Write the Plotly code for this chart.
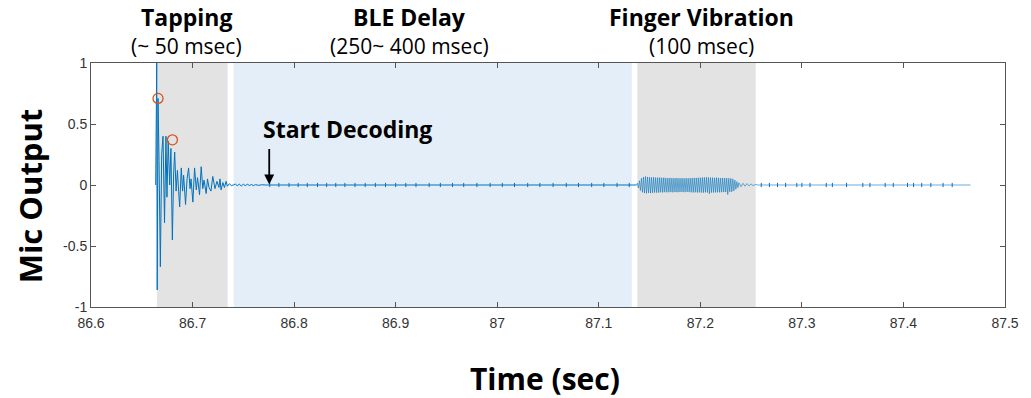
import plotly.graph_objects as go

# ---------------- data ----------------
tap_t = [86.6637, 86.6647, 86.6652, 86.6660, 86.6670, 86.6683, 86.6696, 86.6709,
         86.6724, 86.6738, 86.6748, 86.6760, 86.6775, 86.6787, 86.6801, 86.6814,
         86.6824, 86.6838, 86.6851, 86.6863, 86.6873, 86.6889, 86.6902, 86.6912,
         86.6931, 86.6946, 86.6961, 86.6975, 86.6985, 86.7003, 86.7020, 86.7037,
         86.7049, 86.7069, 86.7085, 86.7101, 86.7113, 86.7134, 86.7147, 86.7162,
         86.7181, 86.7199, 86.7221, 86.7240, 86.7260, 86.7270, 86.7281, 86.7299,
         86.7314, 86.7330, 86.7343, 86.7363, 86.7382, 86.7402]
tap_v = [0.0, 1.0, -0.86, 0.71, 0.20, -0.67, 0.25, 0.40,
         -0.31, 0.40, -0.10, 0.36, 0.0, 0.30, -0.45, 0.10,
         0.27, -0.05, 0.12, -0.05, -0.18, 0.14, -0.05, 0.08,
         -0.16, 0.05, 0.14, -0.03, 0.05, -0.14, 0.14, -0.04,
         0.06, -0.08, 0.15, -0.03, 0.04, -0.07, 0.05, -0.02,
         -0.05, 0.07, -0.03, 0.03, -0.02, 0.05, -0.04, 0.02,
         -0.02, 0.03, -0.01, 0.01, -0.005, 0.0]

quiet_t = [86.7420, 86.7440, 86.7460, 86.7480, 86.7500, 86.7520, 86.7540, 86.7560,
           86.7580, 86.7600, 86.7620, 86.7650, 86.7680, 86.7720, 87.1370]
quiet_v = [0.008, -0.006, 0.007, -0.008, 0.006, -0.005, 0.006, -0.004,
           0.004, -0.005, 0.003, -0.003, 0.002, 0.0, 0.0]

vib_t = [87.138, 87.139, 87.140, 87.141, 87.142, 87.143, 87.144, 87.145, 87.146, 87.147,
         87.148, 87.149, 87.150, 87.151, 87.152, 87.153, 87.154, 87.155, 87.156, 87.157,
         87.158, 87.159, 87.160, 87.161, 87.162, 87.163, 87.164, 87.165, 87.166, 87.167,
         87.168, 87.169, 87.170, 87.171, 87.172, 87.173, 87.174, 87.175, 87.176, 87.177,
         87.178, 87.179, 87.180, 87.181, 87.182, 87.183, 87.184, 87.185, 87.186, 87.187,
         87.188, 87.189, 87.190, 87.191, 87.192, 87.193, 87.194, 87.195, 87.196, 87.197,
         87.198, 87.199, 87.200, 87.201, 87.202, 87.203, 87.204, 87.205, 87.206, 87.207,
         87.208, 87.209, 87.210, 87.211, 87.212, 87.213, 87.214, 87.215, 87.216, 87.217,
         87.218, 87.219, 87.220, 87.221, 87.222, 87.223, 87.224, 87.225, 87.226, 87.227,
         87.228, 87.229, 87.230, 87.231, 87.232, 87.233, 87.234, 87.235, 87.236, 87.237,
         87.238]
vib_v = [0.015, -0.025, 0.035, -0.045, 0.055, -0.060, 0.065, -0.066, 0.070, -0.068,
         0.066, -0.065, 0.064, -0.066, 0.062, -0.064, 0.063, -0.062, 0.061, -0.063,
         0.060, -0.062, 0.061, -0.060, 0.059, -0.061, 0.060, -0.059, 0.058, -0.060,
         0.057, -0.059, 0.058, -0.058, 0.057, -0.060, 0.056, -0.058, 0.057, -0.059,
         0.056, -0.058, 0.055, -0.057, 0.056, -0.058, 0.055, -0.059, 0.056, -0.057,
         0.055, -0.058, 0.056, -0.060, 0.057, -0.061, 0.058, -0.060, 0.058, -0.061,
         0.059, -0.061, 0.060, -0.062, 0.061, -0.063, 0.062, -0.060, 0.063, -0.062,
         0.062, -0.072, 0.061, -0.062, 0.060, -0.062, 0.059, -0.061, 0.060, -0.060,
         0.058, -0.060, 0.057, -0.059, 0.058, -0.058, 0.056, -0.058, 0.057, -0.078,
         0.055, -0.056, 0.054, -0.055, 0.050, -0.048, 0.040, -0.035, 0.028, -0.022,
         0.018]

tail_t = [87.2400, 87.2420, 87.2440, 87.2460, 87.2480, 87.2500, 87.2520, 87.2540,
          87.2570, 87.4660]
tail_v = [-0.014, 0.014, -0.010, 0.012, -0.008, 0.008, -0.005, 0.004, 0.0, 0.0]

blip_t = [86.7760, 86.7850, 86.7950, 86.8040, 86.8130, 86.8230, 86.8320, 86.8410,
          86.8500, 86.8600, 86.8700, 86.8800, 86.8900, 86.9000, 86.9100, 86.9200,
          86.9330, 86.9440, 86.9560, 86.9670, 86.9800, 86.9930, 87.0050, 87.0170,
          87.0300, 87.0420, 87.0550, 87.0680, 87.0800, 87.0930, 87.1050, 87.1180,
          87.1300, 87.2600, 87.2680, 87.2760, 87.2840, 87.2950, 87.3000, 87.3080,
          87.3240, 87.3300, 87.3440, 87.3600, 87.3670, 87.3820, 87.3900, 87.4040,
          87.4100, 87.4180, 87.4270, 87.4390, 87.4480]

peak_t = [86.6660, 86.6802]
peak_v = [0.71, 0.37]

regions = [  # (start, end, colour)
    (86.6650, 86.7345, "#e3e3e3"),
    (86.7405, 87.1325, "#e4eef8"),
    (87.1380, 87.2545, "#e3e3e3"),
]

x_ticks = [86.6, 86.7, 86.8, 86.9, 87.0, 87.1, 87.2, 87.3, 87.4, 87.5]
y_ticks = [-1, -0.5, 0, 0.5, 1]

top_labels = [  # (centre x, title, subtitle)
    (86.6940, "Tapping", "(~ 50 msec)"),
    (86.9140, "BLE Delay", "(250~ 400 msec)"),
    (87.2010, "Finger Vibration", "(100 msec)"),
]

# ---------------- figure ----------------
blue = "#0072BD"
fig = go.Figure()
fig.add_trace(go.Scatter(x=tap_t + quiet_t, y=tap_v + quiet_v, mode="lines",
                         line=dict(color=blue, width=1, simplify=False),
                         hoverinfo="skip"))
fig.add_trace(go.Scatter(x=[quiet_t[-1]] + vib_t + tail_t,
                         y=[quiet_v[-1]] + vib_v + tail_v, mode="lines",
                         line=dict(color=blue, width=0.9, simplify=False),
                         opacity=0.65, hoverinfo="skip"))
fig.add_trace(go.Scatter(x=blip_t, y=[0] * len(blip_t), mode="markers",
                         marker=dict(symbol="line-ns", size=3, color=blue,
                                     line=dict(color=blue, width=1)),
                         hoverinfo="skip"))
fig.add_trace(go.Scatter(x=peak_t, y=peak_v, mode="markers",
                         marker=dict(symbol="circle-open", size=10, color="#D95319",
                                     line=dict(color="#D95319", width=1.3)),
                         hoverinfo="skip"))

for x0, x1, c in regions:
    fig.add_shape(type="rect", xref="x", yref="y", x0=x0, x1=x1, y0=-1, y1=1,
                  fillcolor=c, line_width=0, layer="below")

W, H = 1031, 398
ml, mt = 91, 63
pw, ph = 919, 244
mr, mb = W - ml - pw, H - mt - ph


def ypaper(py):
    return 1 - (py - mt) / ph


def xpaper(px):
    return (px - ml) / pw


font_main = "Open Sans, Noto Sans, sans-serif"
for xc, title, sub in top_labels:
    fig.add_annotation(x=xc, xref="x", y=ypaper(17), yref="paper", yanchor="middle",
                       text=f"<b>{title}</b>", showarrow=False, borderpad=0,
                       font=dict(family=font_main, size=23, color="black"))
    fig.add_annotation(x=xc, xref="x", y=ypaper(46), yref="paper", yanchor="middle",
                       text=sub, showarrow=False, borderpad=0,
                       font=dict(family=font_main, size=21, color="black"))

fig.add_annotation(x=86.7755, xref="x", y=0.005, yref="y",
                   ax=0, ay=-37, axref="pixel", ayref="pixel",
                   showarrow=True, arrowhead=2, arrowsize=1.1, arrowwidth=1.8,
                   arrowcolor="black", text="")
fig.add_annotation(x=xpaper(263), xref="paper", y=ypaper(129), yref="paper",
                   xanchor="left", yanchor="middle", borderpad=0,
                   text="<b>Start Decoding</b>", showarrow=False,
                   font=dict(family=font_main, size=23, color="black"))

fig.add_annotation(x=xpaper(547), xref="paper", y=ypaper(378), yref="paper",
                   xanchor="center", yanchor="middle", showarrow=False, borderpad=0,
                   text="<b>Time (sec)</b>",
                   font=dict(family=font_main, size=30, color="black"))
fig.add_annotation(x=xpaper(30), xref="paper", y=ypaper(196), yref="paper",
                   xanchor="center", yanchor="middle", showarrow=False, textangle=-90,
                   text="<b>Mic Output</b>", borderpad=0,
                   font=dict(family=font_main, size=31, color="black"))

axis_common = dict(showgrid=False, zeroline=False, showline=True, linecolor="#555555",
                   linewidth=1, mirror="ticks", ticks="inside", ticklen=5,
                   tickcolor="#555555",
                   tickfont=dict(family="Liberation Sans, Arial, sans-serif", size=14,
                                 color="#333333"))
fig.update_xaxes(range=[86.6, 87.5], tickvals=x_ticks, ticklabelstandoff=3,
                 ticktext=[f"{v:g}" for v in x_ticks], **axis_common)
fig.update_yaxes(range=[-1, 1], tickvals=y_ticks,
                 ticktext=[f"{v:g}" for v in y_ticks], **axis_common)

fig.update_layout(width=W, height=H, margin=dict(l=ml, r=mr, t=mt, b=mb, pad=0),
                  plot_bgcolor="white", paper_bgcolor="white", showlegend=False,
                  hovermode=False)

fig.write_html("out.html", config={"displayModeBar": False, "staticPlot": True},
               post_script="document.body.style.margin='0';"
                           "document.body.style.overflow='hidden';")
